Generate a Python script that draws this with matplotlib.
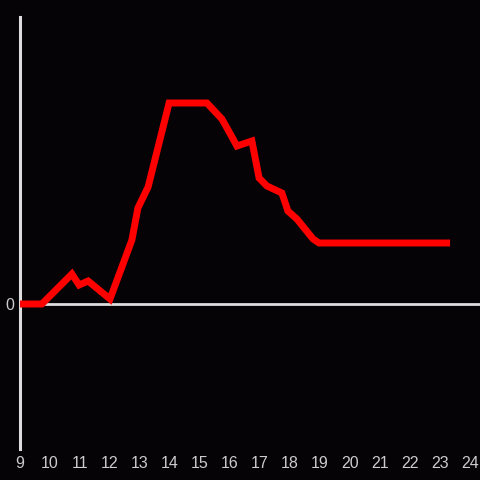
import matplotlib
matplotlib.use("Agg")
import matplotlib.pyplot as plt

# hour of day vs value
hours = [9.0, 9.73, 10.73, 10.97, 11.27, 12.0, 12.73, 12.93, 13.27, 13.97,
         15.23, 15.73, 16.03, 16.23, 16.73, 16.97, 17.23, 17.73, 17.93,
         18.23, 18.77, 18.97, 23.22]
values = [0, 0, 30, 19, 23, 5, 64, 96, 117, 201,
          201, 185, 169, 158, 163, 126, 118, 111, 93,
          85, 65, 61, 61]
xticks = list(range(9, 25))

bg = "#050305"
fg = "#dddddd"

plt.rcParams["font.family"] = ["Liberation Sans Narrow", "Liberation Sans", "DejaVu Sans"]

fig = plt.figure(figsize=(4.8, 4.8), dpi=100, facecolor=bg)
ax = fig.add_axes([20 / 480, 31 / 480, 460 / 480, 432 / 480], facecolor=bg)

ax.plot(hours, values, color="#ff0000", lw=5, solid_capstyle="projecting",
        solid_joinstyle="miter", zorder=3)
ax.axhline(0, color=fg, lw=2, zorder=2)

ax.set_xlim(9, 9 + 460 / 30)
ax.set_ylim(-145, 287)
ax.set_xticks(xticks)
ax.set_xticklabels([str(t) for t in xticks])
ax.set_yticks([0])
ax.set_yticklabels(["0"])
ax.tick_params(length=0, colors="#cccccc", labelsize=11.5)
ax.tick_params(axis="x", pad=5)
ax.tick_params(axis="y", pad=4)

for s in ["top", "right", "bottom"]:
    ax.spines[s].set_visible(False)
ax.spines["left"].set_color(fg)
ax.spines["left"].set_linewidth(2.2)

fig.savefig("out.png", dpi=100, facecolor=bg)
